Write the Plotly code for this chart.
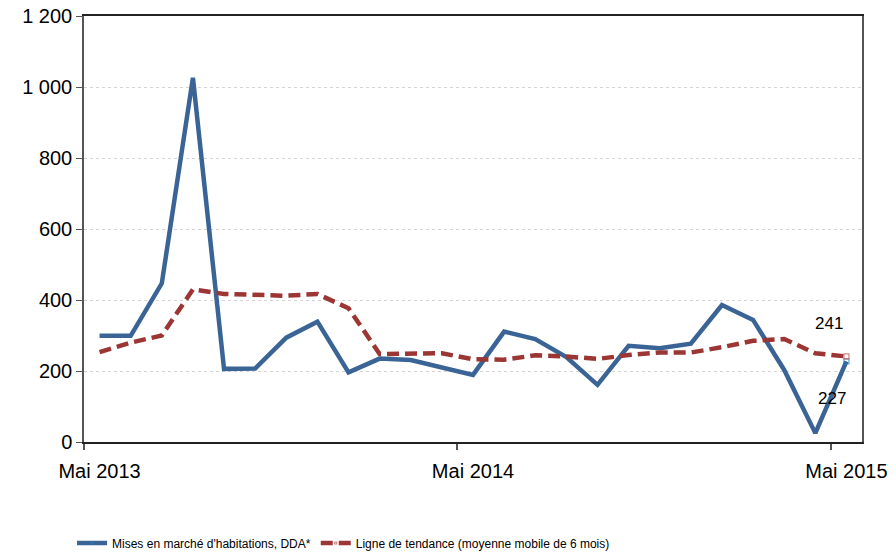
import plotly.graph_objects as go

months = ["Mai 2013", "Juin 2013", "Juil 2013", "Août 2013", "Sept 2013", "Oct 2013", "Nov 2013",
          "Déc 2013", "Janv 2014", "Févr 2014", "Mars 2014", "Avr 2014", "Mai 2014", "Juin 2014",
          "Juil 2014", "Août 2014", "Sept 2014", "Oct 2014", "Nov 2014", "Déc 2014", "Janv 2015",
          "Févr 2015", "Mars 2015", "Avr 2015", "Mai 2015"]
mises = [299, 299, 447, 1026, 206, 207, 294, 339, 196, 235, 231, 211, 189, 311, 290, 239,
         161, 271, 264, 277, 386, 344, 203, 25, 227]
tendance = [253, 280, 300, 430, 417, 414, 412, 417, 377, 248, 250, 250, 233, 232, 244, 241,
            234, 245, 252, 252, 267, 285, 290, 250, 241]
x_tick_labels = ["Mai 2013", "Mai 2014", "Mai 2015"]
x_tick_idx = [0, 12, 24]
y_ticks = [0, 200, 400, 600, 800, 1000, 1200]
y_tick_labels = ["0", "200", "400", "600", "800", "1 000", "1 200"]

blue = "#3A6495"
red = "#9B3634"
n = len(months)
xs = list(range(n))
last_sizes = [0] * (n - 1) + [5]

fig = go.Figure()
fig.add_trace(go.Scatter(
    x=xs, y=mises, mode="lines+markers", name="Mises en marché d'habitations, DDA*",
    line=dict(color=blue, width=4.5),
    marker=dict(symbol="square-open", size=last_sizes, color="#1F7FC0", line=dict(width=1.2)),
    customdata=months, hovertemplate="%{customdata}: %{y}<extra></extra>",
))
fig.add_trace(go.Scatter(
    x=xs, y=tendance, mode="lines+markers", name="Ligne de tendance (moyenne mobile de 6 mois)",
    line=dict(color=red, width=4.5, dash="12px,6px"),
    marker=dict(symbol="square-open", size=last_sizes, color="#C0504D", line=dict(width=1.2)),
    customdata=months, hovertemplate="%{customdata}: %{y}<extra></extra>",
))

fig.add_annotation(x=n - 1, y=tendance[-1], text=str(tendance[-1]), showarrow=False,
                   xshift=-17, yshift=33, font=dict(size=17, color="#000"))
fig.add_annotation(x=n - 1, y=mises[-1], text=str(mises[-1]), showarrow=False,
                   xshift=-14, yshift=-37, font=dict(size=17, color="#000"))

fig.update_layout(
    width=896, height=558,
    margin=dict(l=84, r=34, t=16, b=116, autoexpand=False),
    paper_bgcolor="white", plot_bgcolor="white",
    font=dict(family="Liberation Sans, Arial, sans-serif", size=20, color="#000"),
    showlegend=True,
    legend=dict(orientation="h", xref="container", yref="container", x=0.0804, y=0.0269,
                xanchor="left", yanchor="middle",
                font=dict(family="Liberation Sans, Arial, sans-serif", size=12),
                itemwidth=30, tracegroupgap=0, bgcolor="rgba(0,0,0,0)"),
    hovermode="closest",
)
fig.update_xaxes(
    range=[-0.5, n - 0.5], tickmode="array", tickvals=x_tick_idx, ticktext=x_tick_labels,
    ticks="", showgrid=False, zeroline=False, automargin=False,
    showline=True, linecolor="#222", linewidth=1.5, mirror=True,
    minor=dict(ticks="outside", tickmode="array", tickvals=[-0.5, 11.5, 23.5],
               ticklen=6, tickcolor="#555", tickwidth=1.5, showgrid=False),
    ticklabelstandoff=10, ticklabeloverflow="allow",
    tickfont=dict(size=20),
)
fig.update_yaxes(
    range=[0, 1200], tickmode="array", tickvals=y_ticks, ticktext=y_tick_labels,
    ticks="outside", ticklen=6, tickcolor="#555", tickwidth=1, automargin=False,
    showgrid=True, gridcolor="#D4D4D4", griddash="dot", gridwidth=1, zeroline=False,
    showline=True, linecolor="#555", linewidth=1.5, mirror=True,
    ticklabeloverflow="allow",
    tickfont=dict(size=20),
)

fig.write_html("out.html", config={"displayModeBar": False},
               post_script="document.body.style.margin='0';document.body.style.overflow='hidden';")
